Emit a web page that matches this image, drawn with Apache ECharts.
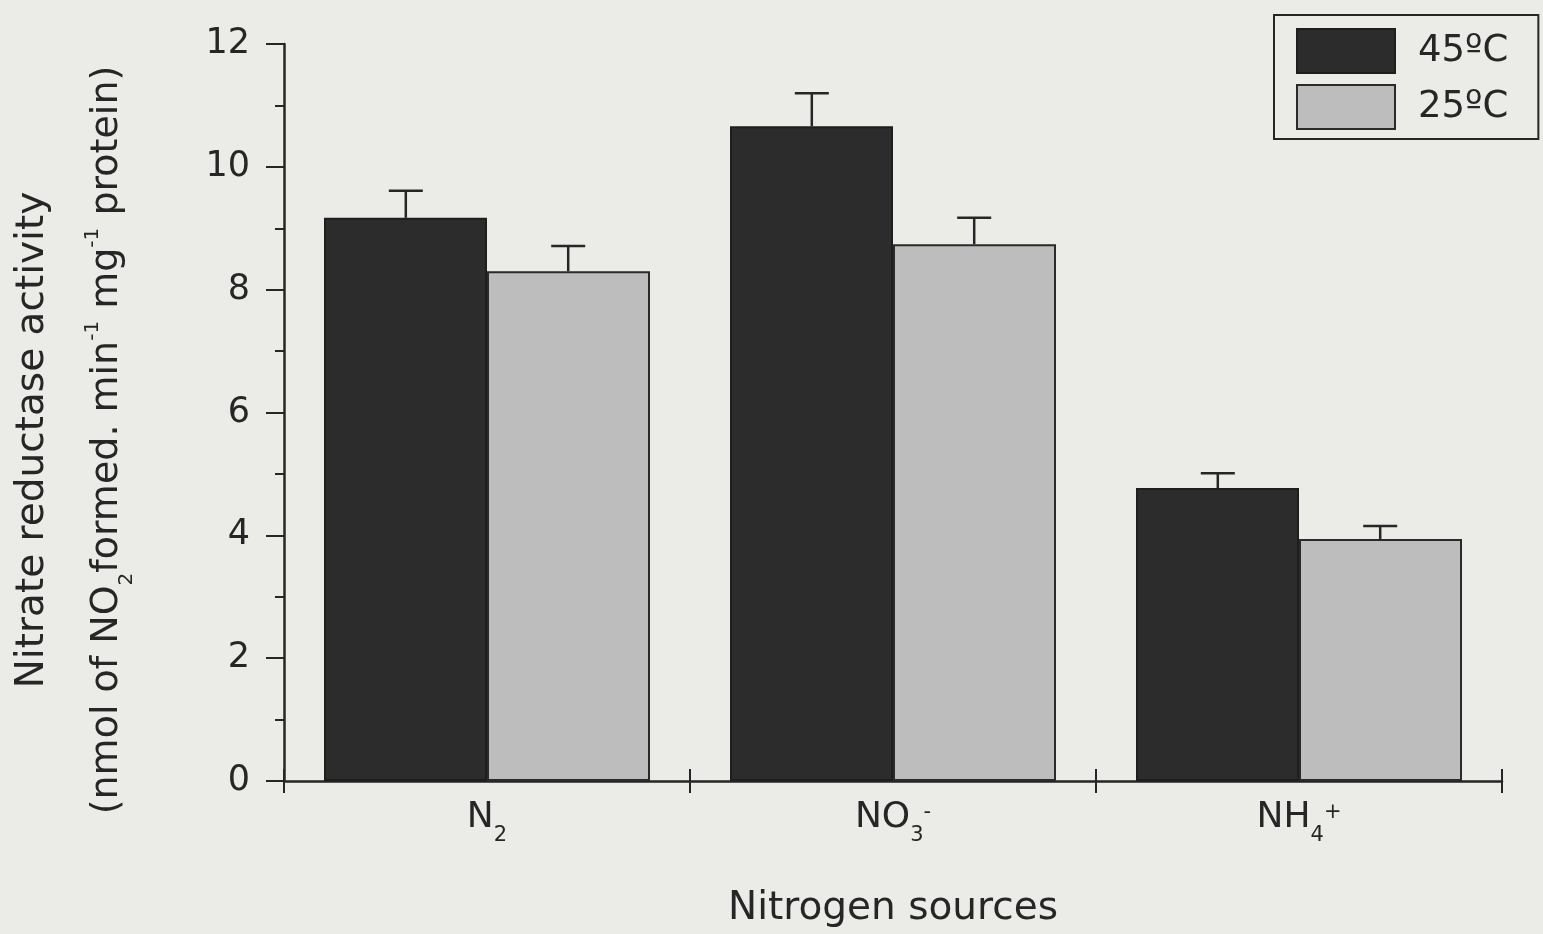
<!DOCTYPE html>
<html>
<head>
<meta charset="utf-8">
<script src="https://cdn.jsdelivr.net/npm/echarts@6/dist/echarts.min.js"></script>
<style>
html,body{margin:0;padding:0;background:#ebebe8;}
#chart{width:1543px;height:934px;}
</style>
</head>
<body>
<div id="chart"></div>
<script>
// ---- data ----
var categories = ['N2', 'NO3-', 'NH4+'];
var categoryLabels = ['{m|N}{sub|2}', '{m|NO}{sub|3}{sup|-}', '{m|NH}{sub|4}{sup|+}'];
var seriesNames = ['45ºC', '25ºC'];
var values45 = [9.17, 10.66, 4.77];
var errors45 = [0.44, 0.54, 0.24];
var values25 = [8.30, 8.74, 3.94];
var errors25 = [0.41, 0.43, 0.21];
var yTicks = [0, 2, 4, 6, 8, 10, 12];

var FONT = 'DejaVu Sans';
var INK = '#262626';

var chart = echarts.init(document.getElementById('chart'), null, {renderer: 'canvas'});

function errData(vals, errs) {
  return vals.map(function (v, i) { return [i, v, v + errs[i]]; });
}

function errRender(side) {
  return function (params, api) {
    var i = api.value(0);
    var p0 = api.coord([i, api.value(1)]);
    var p1 = api.coord([i, api.value(2)]);
    var band = api.size([1, 0])[0];
    var x = p0[0] + side * band * 0.2;
    var cap = 17;
    var st = {stroke: INK, lineWidth: 2.5};
    return {
      type: 'group',
      children: [
        {type: 'line', shape: {x1: x, y1: p0[1], x2: x, y2: p1[1]}, style: st},
        {type: 'line', shape: {x1: x - cap, y1: p1[1], x2: x + cap, y2: p1[1]}, style: st}
      ]
    };
  };
}

var option = {
  backgroundColor: '#ebebe8',
  animation: false,
  textStyle: {fontFamily: FONT, color: INK},
  grid: {left: 284, right: 41, top: 44, bottom: 153},
  legend: {
    orient: 'vertical',
    left: 1274, top: 15,
    itemWidth: 98, itemHeight: 44, itemGap: 10,
    padding: [13, 30, 9, 22],
    borderColor: INK, borderWidth: 2,
    icon: 'rect',
    textStyle: {fontFamily: FONT, fontSize: 37, color: INK, padding: [0, 0, 0, 18]},
    data: seriesNames
  },
  xAxis: [{
    type: 'category',
    data: categories,
    axisLine: {lineStyle: {color: INK, width: 2.5}},
    axisTick: {show: true, length: 12, lineStyle: {color: INK, width: 2}},
    axisLabel: {
      margin: 9,
      formatter: function (v, idx) { return categoryLabels[idx]; },
      rich: {
        m: {fontFamily: FONT, fontSize: 36, color: INK, lineHeight: 56},
        sub: {fontFamily: FONT, fontSize: 21, color: INK, lineHeight: 20, verticalAlign: 'bottom'},
        sup: {fontFamily: FONT, fontSize: 21, color: INK, lineHeight: 20, verticalAlign: 'top', padding: [12, 0, 0, 0]}
      }
    },
    name: 'Nitrogen sources',
    nameLocation: 'middle',
    nameGap: 108,
    nameTextStyle: {fontFamily: FONT, fontSize: 39, color: INK}
  }, {
    type: 'category',
    data: categories,
    position: 'bottom',
    axisLine: {show: false},
    axisTick: {show: true, inside: true, length: 12, lineStyle: {color: INK, width: 2}},
    axisLabel: {show: false}
  }],
  yAxis: {
    type: 'value',
    min: 0, max: 12, interval: 2,
    axisLine: {show: true, lineStyle: {color: INK, width: 2.5}},
    axisTick: {show: true, length: 18, lineStyle: {color: INK, width: 2}},
    minorTick: {show: true, splitNumber: 2, length: 9, lineStyle: {color: INK, width: 2}},
    splitLine: {show: false},
    axisLabel: {
      margin: 34, fontFamily: FONT, fontSize: 35, color: INK,
      formatter: function (v) { return yTicks.indexOf(v) >= 0 ? String(v) : ''; }
    }
  },
  series: [{
    name: seriesNames[0],
    type: 'bar',
    data: values45,
    barWidth: 163,
    barGap: '0%',
    itemStyle: {color: '#2c2c2c', borderColor: '#1e1e1e', borderWidth: 2}
  }, {
    name: seriesNames[1],
    type: 'bar',
    data: values25,
    barWidth: 163,
    barGap: '0%',
    itemStyle: {color: '#bdbdbd', borderColor: '#2a2a2a', borderWidth: 2}
  }, {
    type: 'custom',
    name: 'err45',
    renderItem: errRender(-1),
    data: errData(values45, errors45),
    z: 5
  }, {
    type: 'custom',
    name: 'err25',
    renderItem: errRender(1),
    data: errData(values25, errors25),
    z: 5
  }],
  graphic: [{
    type: 'text',
    x: 33, y: 440,
    rotation: Math.PI / 2,
    style: {
      text: 'Nitrate reductase activity',
      fontFamily: FONT, fontSize: 39, fill: INK,
      align: 'center', verticalAlign: 'middle'
    }
  }, {
    type: 'text',
    x: 107, y: 440,
    rotation: Math.PI / 2,
    style: {
      text: '{m|(nmol of NO}{sub|2}{m|formed. min}{sup|-1}{m| mg}{sup|-1}{m| protein)}',
      fontFamily: FONT, fontSize: 38, fill: INK,
      align: 'center', verticalAlign: 'middle',
      rich: {
        m: {fontFamily: FONT, fontSize: 38, fill: INK, lineHeight: 60},
        sub: {fontFamily: FONT, fontSize: 20, fill: INK, lineHeight: 20, verticalAlign: 'bottom'},
        sup: {fontFamily: FONT, fontSize: 20, fill: INK, lineHeight: 20, verticalAlign: 'top', padding: [6, 0, 0, 0]}
      }
    }
  }]
};

chart.setOption(option);
</script>
</body>
</html>
